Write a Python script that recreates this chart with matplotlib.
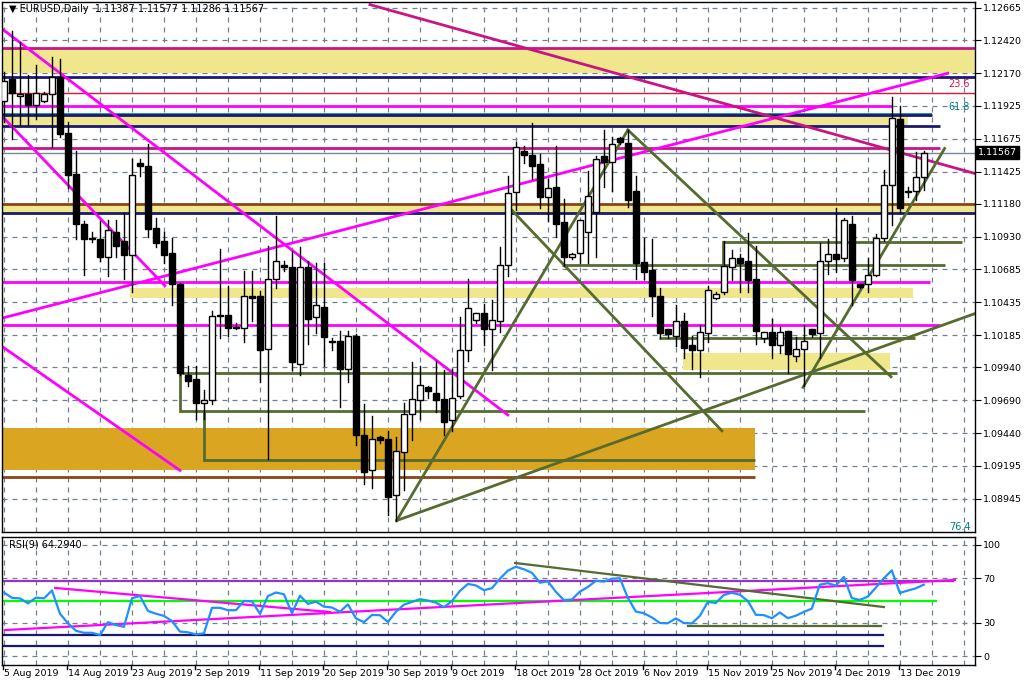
import numpy as np
import pandas as pd
import matplotlib
matplotlib.use("Agg")
import matplotlib.pyplot as plt

# ── 数据: 日线 OHLC (EURUSD, 含周日K线) ──
opens = [1.1196, 1.1213, 1.1200, 1.1201, 1.1193, 1.1196, 1.1201, 1.1214, 1.1172, 1.1141,
         1.1103, 1.1092, 1.1091, 1.1078, 1.1097, 1.1090, 1.1079, 1.1149, 1.1147, 1.1100,
         1.1090, 1.1081, 1.1057, 1.0988, 1.0985, 1.0967, 1.0969, 1.1034, 1.1034, 1.1025,
         1.1024, 1.1048, 1.1048, 1.1008, 1.1061, 1.1072, 1.1070, 1.0997, 1.1070, 1.1032,
         1.1040, 1.1014, 1.1014, 1.0993, 1.1018, 1.0943, 1.0916, 1.0941, 1.0940, 1.0897,
         1.0930, 1.0959, 1.0969, 1.0979, 1.0975, 1.0970, 1.0954, 1.0972, 1.1007, 1.1030,
         1.1035, 1.1023, 1.1029, 1.1072, 1.1127, 1.1158, 1.1155, 1.1148, 1.1123, 1.1131,
         1.1104, 1.1078, 1.1081, 1.1097, 1.1112, 1.1154, 1.1150, 1.1168, 1.1164, 1.1128,
         1.1074, 1.1068, 1.1048, 1.1023, 1.1018, 1.1029, 1.1011, 1.1007, 1.1020, 1.1047,
         1.1051, 1.1070, 1.1077, 1.1075, 1.1061, 1.1016, 1.1021, 1.1011, 1.1022, 1.1003,
         1.1008, 1.1023, 1.1020, 1.1075, 1.1080, 1.1077, 1.1103, 1.1057, 1.1057, 1.1064,
         1.1092, 1.1132, 1.1182, 1.1128, 1.1128, 1.11387]
highs = [1.1218, 1.1249, 1.1241, 1.1216, 1.1223, 1.1203, 1.1229, 1.1228, 1.1180, 1.1158,
         1.1105, 1.1097, 1.1105, 1.1106, 1.1106, 1.1111, 1.1152, 1.1152, 1.1163, 1.1107,
         1.1097, 1.1092, 1.1058, 1.0995, 1.0995, 1.0977, 1.1037, 1.1084, 1.1056, 1.1028,
         1.1067, 1.1067, 1.1052, 1.1086, 1.1109, 1.1075, 1.1082, 1.1085, 1.1075, 1.1073,
         1.1073, 1.1016, 1.1022, 1.1022, 1.1019, 1.0966, 1.0957, 1.0942, 1.0946, 1.0941,
         1.0967, 1.0998, 1.0995, 1.0980, 1.0999, 1.0992, 1.0993, 1.1032, 1.1061, 1.1035,
         1.1042, 1.1045, 1.1085, 1.1139, 1.1165, 1.1162, 1.1179, 1.1156, 1.1137, 1.1162,
         1.1122, 1.1081, 1.1106, 1.1143, 1.1154, 1.1174, 1.1169, 1.1169, 1.1174, 1.1139,
         1.1092, 1.1091, 1.1054, 1.1023, 1.1041, 1.1035, 1.1018, 1.1026, 1.1056, 1.1051,
         1.1090, 1.1083, 1.1080, 1.1096, 1.1086, 1.1021, 1.1031, 1.1025, 1.1022, 1.1017,
         1.1026, 1.1023, 1.1088, 1.1091, 1.1115, 1.1107, 1.1109, 1.1057, 1.1077, 1.1095,
         1.1144, 1.1199, 1.1192, 1.1131, 1.1157, 1.11577]
lows = [1.1180, 1.1167, 1.1178, 1.1178, 1.1182, 1.1195, 1.1161, 1.1169, 1.1130, 1.1091,
        1.1064, 1.1089, 1.1075, 1.1063, 1.1078, 1.1061, 1.1051, 1.1139, 1.1093, 1.1085,
        1.1073, 1.1041, 1.0988, 1.0980, 1.0955, 1.0955, 1.0966, 1.1016, 1.1018, 1.1023,
        1.1013, 1.1029, 1.0983, 1.0925, 1.1054, 1.1067, 1.0992, 1.0988, 1.1012, 1.1020,
        1.0995, 1.1007, 1.0964, 1.0983, 1.0935, 1.0906, 1.0903, 1.0937, 1.0882, 1.0878,
        1.0901, 1.0939, 1.0955, 1.0971, 1.0960, 1.0943, 1.0946, 1.0971, 1.0999, 1.1028,
        1.1011, 1.0992, 1.1021, 1.1063, 1.1113, 1.1149, 1.1137, 1.1115, 1.1105, 1.1093,
        1.1071, 1.1076, 1.1073, 1.1073, 1.1078, 1.1131, 1.1128, 1.1163, 1.1116, 1.1061,
        1.1061, 1.1033, 1.1016, 1.1016, 1.1010, 1.1001, 1.0993, 1.0987, 1.1013, 1.1046,
        1.1050, 1.1060, 1.1051, 1.1051, 1.1012, 1.1013, 1.1001, 1.1005, 1.0990, 1.0999,
        1.0980, 1.1017, 1.1001, 1.1065, 1.1066, 1.1075, 1.1041, 1.1054, 1.1051, 1.1063,
        1.1090, 1.1102, 1.1112, 1.1123, 1.1121, 1.11286]
closes = [1.1211, 1.1202, 1.1201, 1.1193, 1.1202, 1.1201, 1.1214, 1.1171, 1.1140, 1.1103,
          1.1091, 1.1091, 1.1078, 1.1098, 1.1086, 1.1079, 1.1140, 1.1147, 1.1099, 1.1088,
          1.1079, 1.1057, 1.0990, 1.0984, 1.0967, 1.0969, 1.1033, 1.1033, 1.1024, 1.1024,
          1.1048, 1.1047, 1.1007, 1.1061, 1.1075, 1.1070, 1.0998, 1.1070, 1.1031, 1.1041,
          1.1017, 1.1013, 1.0993, 1.1018, 1.0943, 1.0915, 1.0940, 1.0939, 1.0896, 1.0931,
          1.0959, 1.0970, 1.0981, 1.0976, 1.0969, 1.0953, 1.0971, 1.1007, 1.1039, 1.1035,
          1.1023, 1.1030, 1.1072, 1.1126, 1.1161, 1.1155, 1.1147, 1.1123, 1.1130, 1.1103,
          1.1078, 1.1080, 1.1106, 1.1124, 1.1152, 1.1150, 1.1163, 1.1165, 1.1121, 1.1073,
          1.1066, 1.1048, 1.1020, 1.1019, 1.1029, 1.1009, 1.1007, 1.1021, 1.1053, 1.1050,
          1.1071, 1.1077, 1.1073, 1.1060, 1.1022, 1.1021, 1.1011, 1.1021, 1.1004, 1.1008,
          1.1014, 1.1019, 1.1075, 1.1080, 1.1076, 1.1106, 1.1060, 1.1055, 1.1064, 1.1092,
          1.1132, 1.1183, 1.1115, 1.1127, 1.1138, 1.11567]

date_labels = ["5 Aug 2019", "14 Aug 2019", "23 Aug 2019", "2 Sep 2019", "11 Sep 2019",
               "20 Sep 2019", "30 Sep 2019", "9 Oct 2019", "18 Oct 2019", "28 Oct 2019",
               "6 Nov 2019", "15 Nov 2019", "25 Nov 2019", "4 Dec 2019", "13 Dec 2019"]
date_step = 8
price_ticks = [1.12665, 1.12420, 1.12170, 1.11925, 1.11675, 1.11425, 1.11180, 1.10930,
               1.10685, 1.10435, 1.10185, 1.09940, 1.09690, 1.09440, 1.09195, 1.08945]
rsi_ticks = [100, 70, 30, 0]
rsi_period = 9
# 图表左侧之前的历史平均涨跌幅 (估计, 用于 RSI 起点)
rsi_seed_gain = 0.0008
rsi_seed_loss = 0.0006

# 水平线: (价格, 起始K线, 结束K线, 颜色, 线宽)
hlines = [
    (1.1236, -1, 130, '#C71585', 2.0),
    (1.1214, -1, 130, '#191970', 2.0),
    (1.1202, -1, 130, '#DC143C', 1.0),
    (1.1192, -1, 111, '#FF00FF', 2.0),
    (1.1186, -1, 116, '#008080', 1.2),
    (1.1185, -1, 116, '#191970', 2.0),
    (1.1177, -1, 117, '#191970', 2.0),
    (1.1160, -1, 117, '#C71585', 2.0),
    (1.11567, -1, 130, '#778899', 1.0),
    (1.1118, -1, 130, '#8B4513', 2.0),
    (1.1111, -1, 130, '#191970', 2.0),
    (1.1089, 89.9, 119.8, '#556B2F', 2.0),
    (1.1072, 69.75, 117.6, '#556B2F', 2.0),
    (1.1059, -1, 115.75, '#FF00FF', 2.0),
    (1.1026, -1, 117, '#FF00FF', 2.0),
    (1.1016, 81.9, 113.9, '#556B2F', 2.0),
    (1.0990, 22, 111.6, '#556B2F', 2.0),
    (1.0961, 22, 107.6, '#556B2F', 2.0),
    (1.0924, 25, 93.9, '#556B2F', 2.0),
    (1.0911, -1, 93.9, '#8B4513', 2.0),
]
# 价格区间带: (上沿, 下沿, 起, 止, 颜色)
bands = [
    (1.1236, 1.1217, -1, 130, '#F0E68C'),
    (1.1185, 1.1177, -1, 113, '#F0E68C'),
    (1.1118, 1.1111, -1, 130, '#F0E68C'),
    (1.1054, 1.1047, 15.75, 113.6, '#F0E68C'),
    (1.1005, 1.0992, 84.9, 110.75, '#F0E68C'),
    (1.0948, 1.0916, -1, 93.9, '#DAA520'),
]
# 趋势线: (x0, p0, x1, p1, 颜色)
trendlines = [
    (-0.1, 1.1250, 63.0, 1.0958, '#FF00FF'),
    (-0.5, 1.1186, 20.1, 1.1056, '#FF00FF'),
    (-0.5, 1.1011, 22.0, 1.0916, '#FF00FF'),
    (-0.5, 1.1031, 118.0, 1.1217, '#FF00FF'),
    (45.75, 1.1269, 121.4, 1.1141, '#C71585'),
    (49.1, 1.0878, 78.0, 1.1174, '#556B2F'),
    (78.0, 1.1174, 110.9, 1.0987, '#556B2F'),
    (62.9, 1.1117, 89.75, 1.0946, '#556B2F'),
    (49.1, 1.0878, 127.0, 1.1047, '#556B2F'),
    (99.9, 1.0979, 117.6, 1.1160, '#556B2F'),
    (22, 1.0990, 22, 1.0961, '#556B2F'),
    (25, 1.0961, 25, 1.0924, '#556B2F'),
    (89.9, 1.1089, 89.9, 1.1072, '#556B2F'),
]
# RSI 面板中的线: (x0, r0, x1, r1, 颜色)
rsi_lines = [
    (-0.5, 67.6, 118.6, 67.6, '#9932CC'),
    (-0.5, 49.5, 116.5, 49.5, '#00FF00'),
    (0.1, 23.4, 118.9, 68.5, '#FF00FF'),
    (6.4, 61.3, 40.75, 39.6, '#FF00FF'),
    (63.9, 83.8, 110.0, 44.1, '#556B2F'),
    (85.5, 27.0, 109.6, 27.0, '#556B2F'),
    (-0.5, 18.9, 109.9, 18.9, '#191970'),
    (-0.5, 9.0, 109.9, 9.0, '#191970'),
]

# ── RSI(9), Wilder 平滑 ──
d = pd.Series(closes).diff().fillna(0).values
g, l = rsi_seed_gain, rsi_seed_loss
rsi = []
for x in d:
    g = (g * (rsi_period - 1) + max(x, 0)) / rsi_period
    l = (l * (rsi_period - 1) + max(-x, 0)) / rsi_period
    rsi.append(100 * g / (g + l))
rsi = np.array(rsi)

W, H = 1024, 683
fig = plt.figure(figsize=(W / 100, H / 100), dpi=100)
ax = fig.add_axes([2 / W, 1 - 532 / H, 973 / W, 530 / H])
ax2 = fig.add_axes([2 / W, 1 - 665 / H, 973 / W, 128 / H])

xmin, xmax = -0.25, 121.4
for a in (ax, ax2):
    a.set_xlim(xmin, xmax)
    a.set_xticks(np.arange(0, 124, 4))
    a.tick_params(axis='x', length=0, labelbottom=False)
    a.grid(True, axis='both', color='#708090', linestyle=(0, (4, 4)), linewidth=0.9)
    a.yaxis.tick_right()
    a.tick_params(axis='y', labelsize=6.8, length=4, pad=2)
    a.set_axisbelow(True)
    for s in a.spines.values():
        s.set_linewidth(1.0)

ax.set_ylim(1.08693, 1.12710)
ax.set_yticks(price_ticks)
ax.set_yticklabels([f"{p:.5f}" for p in price_ticks])

for top, bot, x0, x1, col in bands:
    ax.fill_between([x0, x1], bot, top, color=col, lw=0, zorder=1)
for p, x0, x1, col, lw in hlines:
    ax.plot([x0, x1], [p, p], color=col, lw=lw, zorder=2, solid_capstyle='butt')
for x0, p0, x1, p1, col in trendlines:
    ax.plot([x0, x1], [p0, p1], color=col, lw=2, zorder=2)

# K线
for i, (o, h, lo_, cl) in enumerate(zip(opens, highs, lows, closes)):
    ax.plot([i, i], [lo_, h], color='black', lw=1, zorder=3)
    lo, hi = min(o, cl), max(o, cl)
    hi = max(hi, lo + 0.00003)
    face = 'white' if cl >= o else 'black'
    ax.add_patch(plt.Rectangle((i - 0.35, lo), 0.7, hi - lo, facecolor=face,
                               edgecolor='black', lw=1, zorder=4))

ax.text(0.6, 1.12655, "\u25bc EURUSD,Daily  1.11387 1.11577 1.11286 1.11567",
        fontsize=7, va='center', ha='left', zorder=6)
ax.text(120.8, 1.1205, "23.6", color='#DC143C', fontsize=7, ha='right', va='bottom')
ax.text(120.8, 1.1188, "61.8", color='#008080', fontsize=7, ha='right', va='bottom')
ax.text(120.8, 1.0869, "76.4", color='#008080', fontsize=7, ha='right', va='bottom')
ax.annotate("1.11567", xy=(1.0, 1.11567), xycoords=('axes fraction', 'data'),
            xytext=(2, 0), textcoords='offset points', fontsize=6.8, color='white',
            va='center', ha='left',
            bbox=dict(boxstyle='square,pad=0.2', fc='black', ec='black'))

# RSI 面板
ax2.set_ylim(-8.1, 107.2)
ax2.set_yticks(rsi_ticks)
for x0, r0, x1, r1, col in rsi_lines:
    ax2.plot([x0, x1], [r0, r1], color=col, lw=1.6, zorder=2)
ax2.plot(np.arange(len(rsi)), rsi, color='#1E90FF', lw=1.6, zorder=3)
ax2.text(0.6, 100, f"RSI(9) {rsi[-1]:.4f}", fontsize=7, va='center', ha='left')

# 日期标签
for k, lab in enumerate(date_labels):
    x = k * date_step
    fx = (2 + (x - xmin) / (xmax - xmin) * 973) / W
    fig.text(fx, 1 - 673 / H, lab, fontsize=6.8, ha='left', va='center')
    fig.lines.append(plt.Line2D([fx - 1 / W, fx - 1 / W], [1 - 665 / H, 1 - 669 / H],
                                transform=fig.transFigure, color='black', lw=1))

fig.savefig("out.png", dpi=100)
